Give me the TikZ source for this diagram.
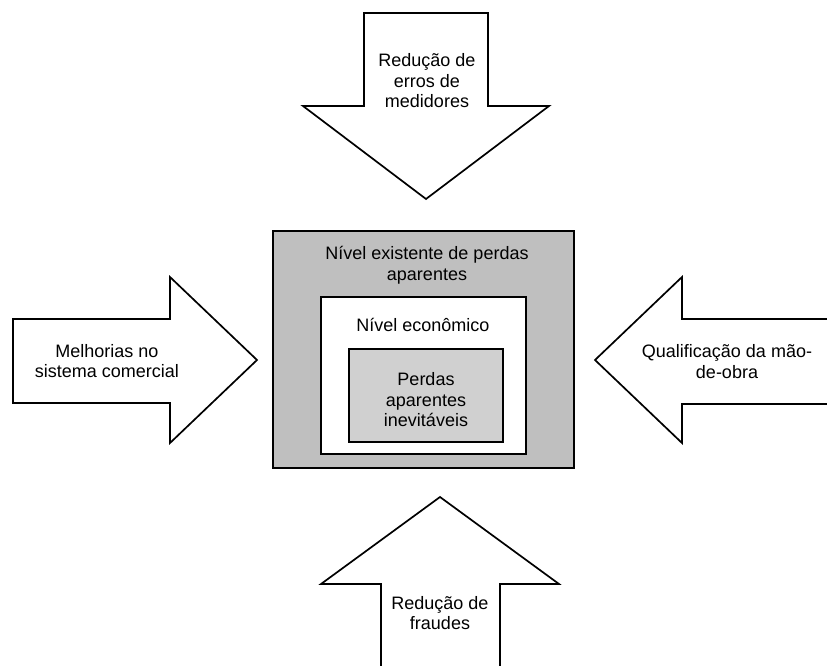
\documentclass[tikz,border=0pt]{standalone}
\usepackage{fontspec}
\setmainfont{Liberation Sans}
\definecolor{outergray}{HTML}{BFBFBF}
\definecolor{innergray}{HTML}{D0D0D0}
\tikzset{
  bigarrow/.style={draw=black, line width=1.7pt, fill=white, line join=miter},
  lbl/.style={align=center, inner sep=0pt, font=\fontsize{18}{20.5}\selectfont},
  tlbl/.style={inner sep=0pt, anchor=base, font=\fontsize{18}{20.5}\selectfont},
  boxline/.style={draw=black, line width=2pt}
}
\begin{document}
\begin{tikzpicture}[x=1pt,y=-1pt]
\useasboundingbox (0,0) rectangle (827,666);
\clip (0,0) rectangle (827,666);
% top arrow
\draw[bigarrow] (364,13) -- (488,13) -- (488,106) -- (549,106) -- (426,199) -- (303,106) -- (364,106) -- cycle;
\node[lbl] (top) at (427,81) {Redução de\\erros de\\medidores};
% left arrow
\draw[bigarrow] (13,319) -- (170,319) -- (170,277) -- (257,360) -- (170,443) -- (170,403) -- (13,403) -- cycle;
\node[lbl] (left) at (107,361) {Melhorias no\\sistema comercial};
% right arrow
\draw[bigarrow] (840,319) -- (682,319) -- (682,277) -- (595,360) -- (682,443) -- (682,404) -- (840,404) -- cycle;
\node[tlbl] (right1) at (727,357) {Qualificação da mão-};
\node[tlbl] (right2) at (727,378) {de-obra};
% bottom arrow
\draw[bigarrow] (381,690) -- (381,584) -- (321,584) -- (440,497) -- (559,584) -- (500,584) -- (500,690) -- cycle;
\node[lbl] (bottom) at (440,613) {Redução de\\fraudes};
% center boxes
\draw[boxline, fill=outergray] (273,231) rectangle (574,468);
\node[lbl] (outer) at (427,265) {Nível existente de perdas\\aparentes};
\draw[boxline, fill=white] (321,297) rectangle (526,454);
\node[lbl] (mid) at (423,325) {Nível econômico};
\draw[draw=black, line width=1.3pt, fill=innergray] (349,349) rectangle (503,442);
\node[lbl] (inner) at (426,400) {Perdas\\aparentes\\inevitáveis};
\end{tikzpicture}
\end{document}
